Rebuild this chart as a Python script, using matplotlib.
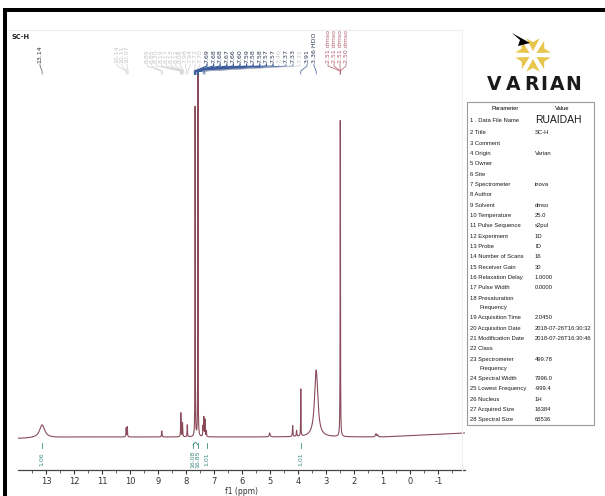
import numpy as np
import matplotlib
matplotlib.use("Agg")
import matplotlib.pyplot as plt
from matplotlib.patches import Rectangle, Polygon

W, H = 605, 496

# ---------------- data ----------------
peak_ppm = [13.14, 10.14, 10.10, 8.87, 8.19, 8.13, 7.96, 7.68, 7.58, 7.40, 7.37, 7.33, 7.28,
            5.02, 4.20, 4.06, 3.91, 3.36, 2.50, 1.23, 1.17]
peak_height = [13, 9, 10, 6, 24, 14, 12, 332, 367, 10, 19, 17, 6,
               4, 11, 6, 47, 67, 317, 3, 2]
peak_width = [0.11, 0.008, 0.008, 0.01, 0.008, 0.008, 0.008, 0.005, 0.005, 0.008, 0.008, 0.008, 0.008,
              0.02, 0.01, 0.01, 0.006, 0.07, 0.006, 0.02, 0.02]
baseline_ppm = [14.0, 12.0, 1.0, -1.95]
baseline_val = [-1.5, 0.0, 0.0, 4.0]

x_ticks = [13, 12, 11, 10, 9, 8, 7, 6, 5, 4, 3, 2, 1, 0, -1]

lbl_13 = ["13.14"]
lbl_10 = ["10.14", "10.11", "10.07"]
lbl_8 = ["8.89", "8.85", "8.20", "8.19", "8.17", "8.13", "8.12", "8.08", "7.98", "7.94", "7.72", "7.70"]
lbl_76 = ["7.69", "7.68", "7.68", "7.67", "7.66", "7.60", "7.59", "7.58", "7.58", "7.57", "7.57"]
lbl_73 = ["7.40", "7.37", "7.33", "7.31"]
lbl_73_faint = [True, False, False, True]
lbl_39 = ["3.91", "3.36 HDO"]
lbl_dmso = ["2.51 dmso", "2.51 dmso", "2.51 dmso", "2.50 dmso"]

integral_vals = ["1.06", "16.08", "16.85", "1.01", "1.01"]
integral_ppm = [13.14, 7.68, 7.58, 7.35, 3.91]

param_names = ["Data File Name", "Title", "Comment", "Origin", "Owner", "Site", "Spectrometer",
               "Author", "Solvent", "Temperature", "Pulse Sequence", "Experiment", "Probe",
               "Number of Scans", "Receiver Gain", "Relaxation Delay", "Pulse Width",
               "Presaturation\nFrequency", "Acquisition Time", "Acquisition Date",
               "Modification Date", "Class", "Spectrometer\nFrequency", "Spectral Width",
               "Lowest Frequency", "Nucleus", "Acquired Size", "Spectral Size"]
param_values = ["RUAIDAH", "SC-H", "", "Varian", "", "", "inova", "", "dmso", "25.0", "s2pul",
                "1D", "ID", "16", "30", "1.0000", "0.0000", "", "2.0450",
                "2018-07-26T16:30:32", "2018-07-26T16:30:46", "", "499.78", "7996.0",
                "-999.4", "1H", "16384", "65536"]

# ---------------- figure ----------------
fig = plt.figure(figsize=(W / 100, H / 100), dpi=100)
fig.patch.set_facecolor("white")

def F(x, y):
    return (x / W, 1 - y / H)

ax = fig.add_axes([18 / W, 26 / H, 447 / W, 450 / H])
ax.set_facecolor("none")

ppm = np.linspace(14.0, -1.95, 16000)
spec = np.interp(ppm, baseline_ppm[::-1], baseline_val[::-1])
for c, h, w in zip(peak_ppm, peak_height, peak_width):
    spec = spec + h * w ** 2 / ((ppm - c) ** 2 + w ** 2)
ax.plot(ppm, spec, color="#8a4a5a", lw=0.8)

ax.set_xlim(14.0, -1.95)
ax.set_ylim(-33, 417)
for s in ["left", "right", "top"]:
    ax.spines[s].set_visible(False)
ax.spines["bottom"].set_color("#444444")
ax.spines["bottom"].set_linewidth(0.9)
ax.set_yticks([])
ax.set_xticks(x_ticks)
ax.set_xticklabels([str(t) for t in x_ticks])
ax.set_xticks(np.arange(13.5, -2.0, -1.0), minor=True)
ax.tick_params(axis="x", which="major", length=3, width=0.8, pad=2, labelsize=6,
               colors="#333333")
ax.tick_params(axis="x", which="minor", length=2, width=0.6, colors="#444444")
ax.set_xlabel("f1 (ppm)", fontsize=5.5, labelpad=1, color="#333333")

# ---------------- peak labels ----------------
def px2ppm(x):
    return 14.0 - (x - 18) / 28.025

LBL_BOT = 374
def draw_label(text, x_px, target, color, lcolor, lw=0.5):
    lx = px2ppm(x_px)
    ax.text(lx, LBL_BOT, text, rotation=90, ha="center", va="bottom", fontsize=4.5,
            color=color, clip_on=False)
    ax.plot([lx, lx, target, target], [LBL_BOT - 1, LBL_BOT - 3, 366, 363],
            color=lcolor, lw=lw, clip_on=False)

draw_label(lbl_13[0], 40, 13.14, "#333333", "#555555")
for i, t in enumerate(lbl_10):
    draw_label(t, 117 + 5 * i, float(t), "#c4c4c8", "#d0d0d4")
for i, t in enumerate(lbl_8):
    draw_label(t, 147 + 4.8 * i, float(t), "#c4c4c8", "#d0d0d4")
for i, t in enumerate(lbl_76):
    draw_label(t, 207 + 6.6 * i, float(t), "#2a3552", "#3b5b9b", lw=0.9)
for i, (t, fnt) in enumerate(zip(lbl_73, lbl_73_faint)):
    col = "#c4c4c8" if fnt else "#2a3552"
    lcol = "#d0d0d4" if fnt else "#3b5b9b"
    draw_label(t, 279 + 7 * i, float(t), col, lcol)
draw_label(lbl_39[0], 307, 3.91, "#2a3552", "#3b5b9b")
draw_label(lbl_39[1], 314, 3.36, "#2a3552", "#3b5b9b")
for i, t in enumerate(lbl_dmso):
    draw_label(t, 328 + 6 * i, 2.50, "#b05a6c", "#b05a6c")

# ---------------- integrals ----------------
int_x_px = [42, 193, 198, 207, 301]
for v, p, xp in zip(integral_vals, integral_ppm, int_x_px):
    lx = px2ppm(xp)
    ax.text(lx, -22, v, rotation=90, ha="center", va="center", fontsize=4.5, color="#3d8c80")
    ax.plot([lx, lx], [-6, -11], color="#3d8c80", lw=0.6)
ax.plot([px2ppm(193), px2ppm(195.5), px2ppm(198)], [-8, -5, -8], color="#3d8c80", lw=0.6)

# ---------------- title ----------------
fig.text(*F(12, 37), "SC-H", fontsize=4.8, fontweight="bold", va="center", ha="left",
         color="#222222")

# ---------------- frame ----------------
fig.patches.append(Rectangle(F(3, 12), 602 / W, 4 / H, transform=fig.transFigure,
                             facecolor="black", edgecolor="none"))
fig.patches.append(Rectangle(F(3, 496), 4 / W, 484 / H, transform=fig.transFigure,
                             facecolor="black", edgecolor="none"))
fig.lines.append(plt.Line2D([8 / W, 462 / W], [1 - 30 / H, 1 - 30 / H],
                            transform=fig.transFigure, color="#ececec", lw=0.8))
fig.lines.append(plt.Line2D([462 / W, 462 / W], [1 - 30 / H, 1 - 470 / H],
                            transform=fig.transFigure, color="#f0f0f0", lw=0.8))

# ---------------- logo ----------------
cx, cy = 533, 55
for a in [90, 30, -30, -90, -150, 150]:
    ar = np.deg2rad(a)
    pts = []
    for r, da in [(4, 0), (18, 22), (13, 0), (18, -22)]:
        ang = ar + np.deg2rad(da)
        pts.append(F(cx + r * np.cos(ang), cy - r * np.sin(ang)))
    fig.patches.append(Polygon(pts, closed=True, transform=fig.transFigure,
                               facecolor="#e8c64e", edgecolor="none"))
fig.patches.append(Polygon([F(512, 33), F(530, 43), F(518, 46), F(520, 40)], closed=True,
                           transform=fig.transFigure, facecolor="black", edgecolor="none"))

for ch, xc in zip("VARIAN", [494, 513, 531, 544, 557, 573]):
    fig.text(*F(xc, 84), ch, fontsize=13.5, fontweight="bold", ha="center", va="center",
             color="#1a1a1a", family="DejaVu Sans")

# ---------------- parameter table ----------------
fig.patches.append(Rectangle(F(467, 425), 127 / W, 323 / H, transform=fig.transFigure,
                             facecolor="none", edgecolor="#9a9a9a", lw=0.8))
tfam = ["Liberation Sans", "DejaVu Sans"]
fs = 4.2
fig.text(*F(505, 108), "Parameter", fontsize=fs, ha="center", va="center", family=tfam)
fig.text(*F(562, 108), "Value", fontsize=fs, ha="center", va="center", family=tfam)
y = 120.0
for i, (nm, val) in enumerate(zip(param_names, param_values)):
    n = i + 1
    lines = nm.split("\n")
    prefix = "1 . " if n == 1 else f"{n} "
    fig.text(*F(470, y), prefix + lines[0], fontsize=fs, ha="left", va="center",
             family=tfam, color="#1a1a1a")
    if len(lines) > 1:
        fig.text(*F(479, y + 9), lines[1], fontsize=fs, ha="left", va="center",
                 family=tfam, color="#1a1a1a")
    if val:
        fig.text(*F(535, y), val, fontsize=(7.5 if n == 1 else fs), ha="left", va="center",
                 family=tfam, color="#1a1a1a")
    if n == 1:
        y += 13
    elif len(lines) > 1:
        y += 19.5
    else:
        y += 10.33

fig.savefig("out.png", dpi=100)
